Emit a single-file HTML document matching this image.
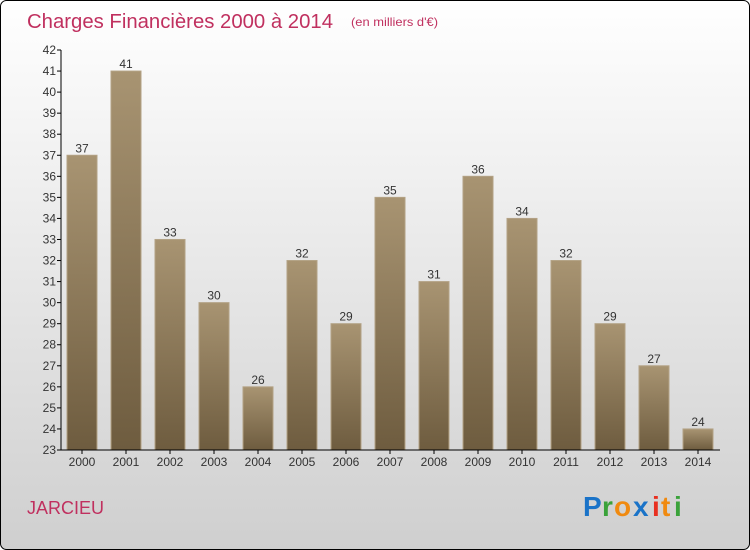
<!DOCTYPE html>
<html><head><meta charset="utf-8"><style>
html,body{margin:0;padding:0;width:750px;height:550px;overflow:hidden;background:#fff}
svg{display:block}
</style></head><body>
<svg id="chart" width="750" height="550" xmlns="http://www.w3.org/2000/svg">
<defs>
<linearGradient id="bg" x1="0" y1="0" x2="0" y2="1"><stop offset="0" stop-color="#ffffff"/><stop offset="1" stop-color="#cfcfcf"/></linearGradient>
<linearGradient id="bar" x1="0" y1="0" x2="0" y2="1"><stop offset="0" stop-color="#a89472"/><stop offset="1" stop-color="#6e5c3f"/></linearGradient>
</defs>
<rect x="0.5" y="0.5" width="749" height="549" rx="6" fill="url(#bg)" stroke="#000"/>
<text x="27" y="28" font-family="Liberation Sans, sans-serif" font-size="20" fill="#c0305f" textLength="306" lengthAdjust="spacingAndGlyphs">Charges Financières 2000 à 2014</text>
<text x="351" y="26" font-family="Liberation Sans, sans-serif" font-size="12" fill="#c0305f" textLength="87" lengthAdjust="spacingAndGlyphs">(en milliers d'€)</text>
<text x="27" y="514" font-family="Liberation Sans, sans-serif" font-size="18" fill="#c0305f">JARCIEU</text>
<g font-family="Liberation Sans, sans-serif" font-size="28" font-weight="bold">
<text x="583" y="516" fill="#1a73c8">P</text><text x="602" y="516" fill="#3aa23a">r</text><text x="614" y="516" fill="#f08a10">o</text><text x="633" y="516" fill="#1a73c8">x</text><text x="652" y="516" fill="#e83020">i</text><text x="661" y="516" fill="#f08a10">t</text><text x="674" y="516" fill="#3aa23a">i</text>
</g>
<g id="plot"></g>
</svg>
<script>
const categories=["2000","2001","2002","2003","2004","2005","2006","2007","2008","2009","2010","2011","2012","2013","2014"];
const values=[37,41,33,30,26,32,29,35,31,36,34,32,29,27,24];
const yTicks=[23,24,25,26,27,28,29,30,31,32,33,34,35,36,37,38,39,40,41,42];
const yMin=23,yMax=42,plotTop=50,plotBottom=450,plotLeft=61,plotRight=720;
const NS="http://www.w3.org/2000/svg";
const g=document.getElementById('plot');
function yPos(v){return plotBottom-(v-yMin)/(yMax-yMin)*(plotBottom-plotTop);}
function xPos(i){return 82+i*44;}
function mk(t,a,txt){const e=document.createElementNS(NS,t);for(const k in a)e.setAttribute(k,a[k]);if(txt!=null)e.textContent=txt;g.appendChild(e);return e;}
values.forEach((v,i)=>{
 const r=mk('rect',{x:xPos(i)-15,y:yPos(v),width:30,height:plotBottom-yPos(v),fill:'url(#bar)',stroke:'#b3a285','stroke-width':1});
 
 
 const t=mk('text',{x:xPos(i),y:yPos(v)-3,'text-anchor':'middle','font-family':'Liberation Sans, sans-serif','font-size':12,fill:'#333'},String(v));
 
 
 const c=mk('text',{x:xPos(i),y:plotBottom+16,'text-anchor':'middle','font-family':'Liberation Sans, sans-serif','font-size':12,fill:'#333'},categories[i]);
 
 
 const tk=mk('line',{x1:xPos(i),x2:xPos(i),y1:plotBottom,y2:plotBottom+4,stroke:'#000'});
 
 
});
yTicks.forEach(v=>{
 const l=mk('line',{x1:plotLeft-4,x2:plotLeft,y1:yPos(v),y2:yPos(v),stroke:'#000'});
 
 
 const t=mk('text',{x:plotLeft-5,y:yPos(v)+4,'text-anchor':'end','font-family':'Liberation Sans, sans-serif','font-size':12,fill:'#333'},String(v));
 
 
});
const ya=mk('line',{x1:plotLeft,x2:plotLeft,y1:plotTop,y2:plotBottom,stroke:'#000'});


const xa=mk('line',{x1:plotLeft,x2:plotRight,y1:plotBottom,y2:plotBottom,stroke:'#000'});


</script>
</body></html>
